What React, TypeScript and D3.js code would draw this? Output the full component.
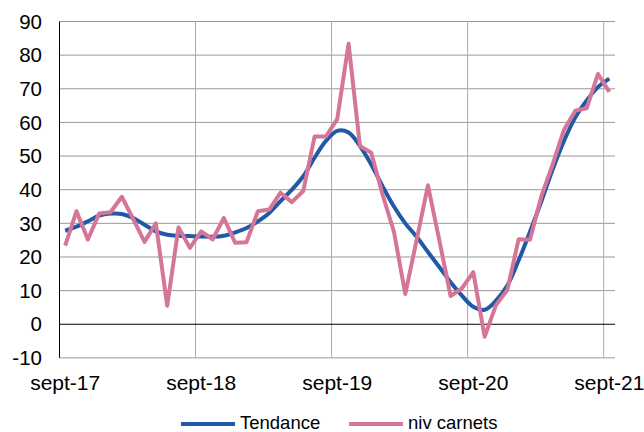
import { useEffect, useRef } from "react";
import * as d3 from "d3";

// monthly points, sept-17 .. sept-21
const months = d3.timeMonth.range(new Date(2017, 8, 1), new Date(2021, 9, 1));
const tickLabels = ["sept-17", "sept-18", "sept-19", "sept-20", "sept-21"];
const yTicks = [-10, 0, 10, 20, 30, 40, 50, 60, 70, 80, 90];

const tendance = [
  27.8, 29.0, 30.6, 32.3, 32.9, 32.8, 31.6, 29.6, 27.6, 26.6, 26.3, 26.2,
  26.1, 26.0, 26.3, 27.3, 28.6, 30.6, 33.1, 36.6, 40.0, 44.0, 49.5, 54.5,
  57.5, 57.0, 53.0, 47.5, 41.0, 35.0, 30.0, 26.0, 21.5, 17.0, 12.5, 8.5,
  5.2, 4.3, 7.0, 11.5, 19.0, 27.5, 36.5, 46.0, 54.5, 61.5, 66.5, 70.5, 73.0,
];

const nivCarnets = [
  23.4, 33.6, 25.2, 32.9, 33.3, 37.9, 31.3, 24.5, 30.0, 5.5, 28.8, 22.7,
  27.6, 25.2, 31.6, 24.2, 24.4, 33.6, 34.1, 39.1, 36.3, 39.6, 55.8, 55.8,
  61.0, 83.4, 53.0, 51.0, 38.5, 27.5, 9.0, 25.0, 41.3, 25.0, 8.4, 10.7,
  15.5, -3.7, 5.7, 10.2, 25.3, 25.1, 38.0, 47.5, 57.8, 63.5, 64.2, 74.4, 69.1,
];

const BLUE = "#2259a6";
const PINK = "#d57598";
const FONT = "'Liberation Sans', Arial, sans-serif";

export default function App() {
  const svgRef = useRef<SVGSVGElement>(null);

  useEffect(() => {
    if (!svgRef.current) return;
    const svg = d3.select(svgRef.current);
    svg.selectAll("*").remove();

    const left = 59.5;
    const right = 615;
    const top = 21.5;
    const bottom = 357.9;

    const x = d3
      .scaleBand<number>()
      .domain(months.map((_, i) => i))
      .range([left, right])
      .padding(0);
    const cx = (i: number) => (x(i) || 0) + x.bandwidth() / 2;
    const y = d3.scaleLinear().domain([-10, 90]).range([bottom, top]);

    // horizontal grid
    svg
      .append("g")
      .selectAll("line")
      .data(yTicks.filter((d) => d !== 0))
      .join("line")
      .attr("x1", left)
      .attr("x2", right)
      .attr("y1", (d) => y(d))
      .attr("y2", (d) => y(d))
      .attr("stroke", "#999")
      .attr("stroke-width", 1);

    // vertical grid at each september
    const yearIdx = tickLabels.map((_, k) => k * 12);
    svg
      .append("g")
      .selectAll("line")
      .data(yearIdx.slice(1))
      .join("line")
      .attr("x1", (d) => x(d) || 0)
      .attr("x2", (d) => x(d) || 0)
      .attr("y1", top)
      .attr("y2", bottom)
      .attr("stroke", "#aaa")
      .attr("stroke-width", 1);

    // axes
    svg
      .append("line")
      .attr("x1", left)
      .attr("x2", left)
      .attr("y1", top)
      .attr("y2", bottom)
      .attr("stroke", "#000");
    svg
      .append("line")
      .attr("x1", left)
      .attr("x2", right)
      .attr("y1", y(0))
      .attr("y2", y(0))
      .attr("stroke", "#000");

    // y labels
    svg
      .append("g")
      .selectAll("text")
      .data(yTicks)
      .join("text")
      .attr("x", 42)
      .attr("y", (d) => y(d))
      .attr("dy", "0.35em")
      .attr("text-anchor", "end")
      .attr("font-family", FONT)
      .attr("font-size", 20.5)
      .attr("fill", "#000")
      .text((d) => d);

    // x labels
    svg
      .append("g")
      .selectAll("text")
      .data(tickLabels)
      .join("text")
      .attr("x", (_, k) => cx(k * 12))
      .attr("y", 390)
      .attr("text-anchor", "middle")
      .attr("font-family", FONT)
      .attr("font-size", 21)
      .attr("fill", "#000")
      .text((d) => d);

    const blueLine = d3
      .line<number>()
      .x((_, i) => cx(i))
      .y((d) => y(d))
      .curve(d3.curveCatmullRom.alpha(0.5));
    const pinkLine = d3
      .line<number>()
      .x((_, i) => cx(i))
      .y((d) => y(d));

    svg
      .append("path")
      .datum(tendance)
      .attr("d", blueLine)
      .attr("fill", "none")
      .attr("stroke", BLUE)
      .attr("stroke-width", 4)
      .attr("stroke-linejoin", "round");

    svg
      .append("path")
      .datum(nivCarnets)
      .attr("d", pinkLine)
      .attr("fill", "none")
      .attr("stroke", PINK)
      .attr("stroke-width", 4)
      .attr("stroke-linejoin", "round");

    // legend
    const legend = [
      { label: "Tendance", color: BLUE, x: 181 },
      { label: "niv carnets", color: PINK, x: 349 },
    ];
    const lg = svg.append("g");
    legend.forEach((l) => {
      lg.append("line")
        .attr("x1", l.x)
        .attr("x2", l.x + 54)
        .attr("y1", 424)
        .attr("y2", 424)
        .attr("stroke", l.color)
        .attr("stroke-width", 4);
      lg.append("text")
        .attr("x", l.x + 59)
        .attr("y", 429)
        .attr("font-family", FONT)
        .attr("font-size", 18.5)
        .attr("fill", "#000")
        .text(l.label);
    });
  }, []);

  return (
    <svg
      ref={svgRef}
      width={644}
      height={432}
      style={{ position: "fixed", left: 0, top: 0, background: "#fff" }}
    />
  );
}
